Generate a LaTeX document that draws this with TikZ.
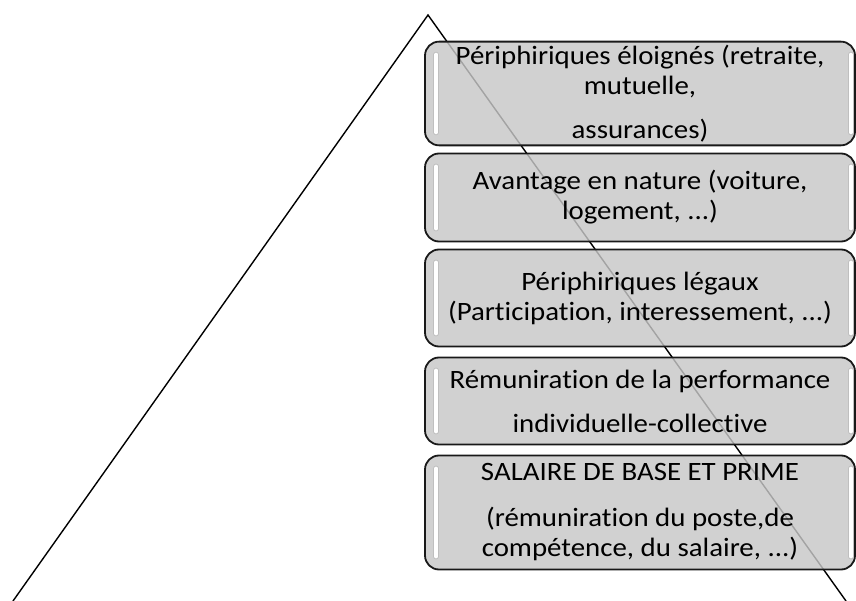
\documentclass[tikz,border=0pt]{standalone}
\usepackage{fontspec}
\setmainfont[Ligatures=NoCommon, FakeStretch=1.09]{Carlito}

\begin{document}
\begin{tikzpicture}[x=1pt, y=-1pt]
        \useasboundingbox (0,0) rectangle (856,601);
        \coordinate (T) at (428,15);
        \coordinate (L) at (13,601);
        \coordinate (R) at (846,601);
        \draw[black, line width=1.4pt] (L) -- (T) -- (R);
        \begin{scope}[every node/.style={draw=black!90, line width=1.8pt, rounded corners=14pt, fill=black!22, fill opacity=0.82, text opacity=1, minimum width=430pt, inner xsep=2pt, align=center, font=\fontsize{26.5}{30}\selectfont}]
                \node [minimum height=102pt] (Elo) at (640,93.5) {Périphiriques éloignés (retraite,\\ mutuelle,\\[14pt] assurances)};
                \node [minimum height=88pt] (Nat) at (640,197.5) {Avantage en nature (voiture,\\ logement, ...)};
                \node [minimum height=97pt] (Leg) at (640,298) {Périphiriques légaux\\ (Participation, interessement, ...)};
                \node [minimum height=87pt] (Perf) at (640,401) {Rémuniration de la performance\\[14pt] individuelle-collective};
                \node [minimum height=114pt] (Base) at (640,512.5) {SALAIRE DE BASE ET PRIME\\[16pt] (rémuniration du poste,de\\ compétence, du salaire, ...)};
        \end{scope}
        \begin{scope}[every path/.style={line cap=round}]
                \foreach \b in {Elo, Nat, Leg, Perf, Base} {
                        \draw[black!25, line width=6pt] ([xshift=12pt, yshift=-14pt]\b.north west) -- ([xshift=12pt, yshift=14pt]\b.south west);
                        \draw[white, line width=4pt] ([xshift=12pt, yshift=-14pt]\b.north west) -- ([xshift=12pt, yshift=14pt]\b.south west);
                        \draw[black!25, line width=6pt] ([xshift=-5pt, yshift=-14pt]\b.north east) -- ([xshift=-5pt, yshift=14pt]\b.south east);
                        \draw[white, line width=4pt] ([xshift=-5pt, yshift=-14pt]\b.north east) -- ([xshift=-5pt, yshift=14pt]\b.south east);
                }
        \end{scope}
\end{tikzpicture}
\end{document}
